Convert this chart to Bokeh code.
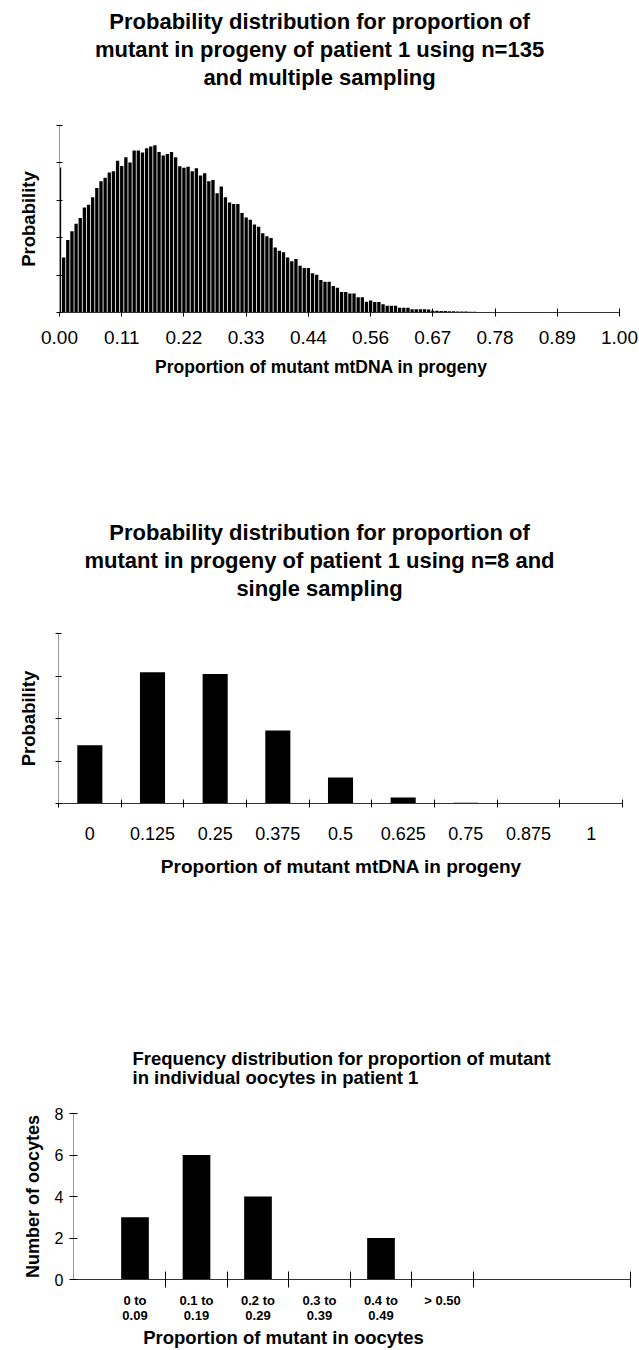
import glob
from bokeh.plotting import figure
from bokeh.models import Range1d, FixedTicker, Title, NumeralTickFormatter, CustomJSTickFormatter
from bokeh.layouts import column
from bokeh.embed import file_html
from bokeh.resources import INLINE

FONT = "Liberation Sans"

# ---------------- data ----------------
# Chart 1: n=135, multiple sampling (proportion k/135, probability)
c1_k = list(range(136))
c1_prob = [
    0.0194, 0.00735, 0.0097, 0.01085, 0.01185, 0.01265, 0.01405, 0.0144, 0.0154, 0.01665,
    0.01755, 0.0180, 0.0187, 0.0189, 0.0203, 0.0196, 0.02075, 0.02005, 0.02165, 0.02165,
    0.0214, 0.02195, 0.0222, 0.02235, 0.02145, 0.0210, 0.0212, 0.02145, 0.02075, 0.01955,
    0.01935, 0.0195, 0.0189, 0.0193, 0.0183, 0.0186, 0.01755, 0.0177, 0.01595, 0.01685,
    0.0154, 0.0147, 0.0145, 0.0145, 0.0133, 0.0127, 0.0124, 0.01175, 0.01145, 0.0106,
    0.0102, 0.00995, 0.0087, 0.00825, 0.00805, 0.00735, 0.00685, 0.00715, 0.00625, 0.00595,
    0.00595, 0.00525, 0.00505, 0.00435, 0.0041, 0.0041, 0.00355, 0.0033, 0.00275, 0.00275,
    0.00255, 0.00255, 0.00205, 0.00205, 0.00145, 0.0016, 0.0014, 0.0014, 0.0011, 0.0009,
    0.0009, 0.0009, 0.00063, 0.00063, 0.00063, 0.00045, 0.00045, 0.00045, 0.00045, 0.0004,
    0.00025, 0.00022, 0.0002, 0.0002, 0.00018, 0.00016, 0.00015, 0.00013, 0.00012, 0.0001,
    0.0001, 0.00008, 0.00007, 0.00006, 0.00005, 0.00004, 0.00003, 0.00003, 0.00002, 0.00002,
    0.00001, 0.0, 0.0, 0.0, 0.0, 0.0, 0.0, 0.0, 0.0, 0.0,
    0.0, 0.0, 0.0, 0.0, 0.0, 0.0, 0.0, 0.0, 0.0, 0.0,
    0.0, 0.0, 0.0, 0.0, 0.0, 0.0,
]
c1_ticks = [0, 1/9, 2/9, 3/9, 4/9, 5/9, 6/9, 7/9, 8/9, 1.0]
c1_yticks = [0, 0.005, 0.01, 0.015, 0.02, 0.025]
c1_title = ["Probability distribution for proportion of",
            "mutant in progeny of patient 1 using n=135",
            "and multiple sampling"]

# Chart 2: n=8, single sampling
c2_labels = ["0", "0.125", "0.25", "0.375", "0.5", "0.625", "0.75", "0.875", "1"]
c2_prob = [0.137, 0.309, 0.305, 0.172, 0.061, 0.014, 0.002, 0.0002, 0.0]
c2_yticks = [0, 0.1, 0.2, 0.3, 0.4]
c2_title = ["Probability distribution for proportion of",
            "mutant in progeny of patient 1 using n=8 and",
            "single sampling"]

# Chart 3: oocytes
c3_labels = ["0 to\n0.09", "0.1 to\n0.19", "0.2 to\n0.29", "0.3 to\n0.39", "0.4 to\n0.49", "> 0.50"]
c3_counts = [3, 6, 4, 0, 2, 0]
c3_yticks = [0, 2, 4, 6, 8]
c3_title = ["Frequency distribution for proportion of mutant",
            "in individual oocytes in patient 1"]

W = 639

_fonts = {}


def text_width(text, size, bold=True):
    if bold not in _fonts:
        name = "LiberationSans-Bold.ttf" if bold else "LiberationSans-Regular.ttf"
        f = None
        try:
            from PIL import ImageFont
            paths = glob.glob("/usr/share/fonts/**/" + name, recursive=True)
            if paths:
                f = ImageFont.truetype(paths[0], 100)
        except Exception:
            f = None
        _fonts[bold] = f
    f = _fonts[bold]
    if f is None:
        return len(text) * size * (0.56 if bold else 0.52)
    return f.getlength(text) * size / 100.0


def make_fig(height, L, R, T, B, xr, yr):
    p = figure(width=W, height=height, x_range=Range1d(*xr), y_range=Range1d(*yr),
               output_backend="svg", toolbar_location=None, title=None,
               min_border_left=L, min_border_right=W - R,
               min_border_top=T, min_border_bottom=height - B)
    try:
        p.frame_align = False
    except Exception:
        pass
    p.grid.visible = False
    p.outline_line_color = None
    p.background_fill_color = "white"
    p.border_fill_color = "white"
    return p


def title_line(text, size, left_px, frame_left, standoff, bold=True, valign="bottom"):
    return Title(text=text, align="left", offset=left_px - frame_left, standoff=standoff,
                 vertical_align=valign, text_font=FONT, text_font_size=f"{size}px",
                 text_font_style="bold" if bold else "normal", text_color="black")


def add_heading(p, lines, size, lefts, frame_left, line_standoff, spacer_standoff):
    p.add_layout(Title(text=" ", text_font_size="10px", standoff=spacer_standoff), "above")
    for text, left in reversed(list(zip(lines, lefts))):
        p.add_layout(title_line(text, size, left, frame_left, line_standoff), "above")


def style_axes(p):
    for ax in (p.xaxis[0], p.yaxis[0]):
        ax.major_label_text_font = FONT
        ax.major_label_text_color = "black"
        ax.major_tick_line_color = "black"
        ax.minor_tick_line_color = None
        ax.axis_label_text_font = FONT
        ax.axis_label_text_font_style = "bold"
        ax.axis_label_text_color = "black"
    p.xaxis[0].axis_line_color = "#333333"
    p.yaxis[0].axis_line_color = "#999999"


empty_fmt = CustomJSTickFormatter(code="return '';")

# ---------------- chart 1 ----------------
L1, R1, T1, B1 = 59, 619, 125, 312
p1 = make_fig(455, L1, R1, T1, B1, (0, 1), (0, 0.025))
c1_x = [k / 135 for k in c1_k]
p1.vbar(x=c1_x, top=c1_prob, width=0.8 / 135, fill_color="black", line_color=None)
style_axes(p1)
p1.xaxis.ticker = FixedTicker(ticks=c1_ticks)
p1.xaxis.formatter = NumeralTickFormatter(format="0.00")
p1.xaxis.major_label_text_font_size = "19px"
p1.xaxis.major_tick_in = 4
p1.xaxis.major_tick_out = 4
p1.xaxis.major_label_standoff = 14
p1.yaxis.ticker = FixedTicker(ticks=c1_yticks)
p1.yaxis.formatter = empty_fmt
p1.yaxis.major_tick_in = 3
p1.yaxis.major_tick_out = 3
p1.yaxis.major_label_standoff = 0
p1.yaxis.axis_label = "Probability"
p1.yaxis.axis_label_text_font_size = "18.5px"
p1.yaxis.axis_label_standoff = 18
lefts = [319 - text_width(t, 22) / 2 for t in c1_title]
add_heading(p1, c1_title, 22, lefts, L1, 1, 22)
xt = "Proportion of mutant mtDNA in progeny"
p1.add_layout(title_line(xt, 17.5, 320.5 - text_width(xt, 17.5) / 2, L1, 21, valign="top"), "below")

# ---------------- chart 2 ----------------
L2, R2, T2, B2 = 58, 622, 178, 348
p2 = make_fig(500, L2, R2, T2, B2, (-0.5, 8.5), (0, 0.4))
c2_x = list(range(len(c2_labels)))
p2.vbar(x=c2_x, top=c2_prob, width=0.4, fill_color="black", line_color=None)
style_axes(p2)
p2.xaxis.ticker = FixedTicker(ticks=c2_x, minor_ticks=[i - 0.5 for i in range(len(c2_labels) + 1)])
p2.xaxis.major_label_overrides = {i: lab for i, lab in enumerate(c2_labels)}
p2.xaxis.major_label_text_font_size = "18px"
p2.xaxis.major_tick_in = 0
p2.xaxis.major_tick_out = 0
p2.xaxis.minor_tick_line_color = "black"
p2.xaxis.minor_tick_in = 4
p2.xaxis.minor_tick_out = 4
p2.xaxis.major_label_standoff = 19
p2.yaxis.ticker = FixedTicker(ticks=c2_yticks)
p2.yaxis.formatter = empty_fmt
p2.yaxis.major_tick_in = 3
p2.yaxis.major_tick_out = 3
p2.yaxis.major_label_standoff = 0
p2.yaxis.axis_label = "Probability"
p2.yaxis.axis_label_text_font_size = "18.5px"
p2.yaxis.axis_label_standoff = 17
lefts = [319 - text_width(t, 22) / 2 for t in c2_title]
add_heading(p2, c2_title, 22, lefts, L2, 1, 19)
p2.add_layout(title_line(xt, 19, 340.5 - text_width(xt, 19) / 2, L2, 27, valign="top"), "below")

# ---------------- chart 3 ----------------
L3, R3, T3, B3 = 73, 630, 158, 334
p3 = make_fig(395, L3, R3, T3, B3, (-1.0, 8.057), (0, 8))
c3_x = list(range(len(c3_labels)))
p3.vbar(x=c3_x, top=c3_counts, width=0.45, fill_color="black", line_color=None)
style_axes(p3)
p3.xaxis.ticker = FixedTicker(ticks=c3_x, minor_ticks=[i + 0.5 for i in c3_x] + [8.05])
p3.xaxis.major_label_overrides = {i: lab for i, lab in enumerate(c3_labels)}
p3.xaxis.major_label_text_font_size = "13px"
p3.xaxis.major_label_text_font_style = "bold"
p3.xaxis.major_label_text_line_height = 1.0
p3.xaxis.major_tick_in = 0
p3.xaxis.major_tick_out = 0
p3.xaxis.minor_tick_line_color = "black"
p3.xaxis.minor_tick_in = 8
p3.xaxis.minor_tick_out = 8
p3.xaxis.major_label_standoff = 5
p3.yaxis.ticker = FixedTicker(ticks=c3_yticks)
p3.yaxis.major_label_text_font_size = "16px"
p3.yaxis.major_tick_in = 4
p3.yaxis.major_tick_out = 4
p3.yaxis.major_label_standoff = 6
p3.yaxis.axis_label = "Number of oocytes"
p3.yaxis.axis_label_text_font_size = "18px"
p3.yaxis.axis_label_standoff = 9
add_heading(p3, c3_title, 18.5, [132, 132], L3, -4, 15)
xt3 = "Proportion of mutant in oocytes"
p3.add_layout(title_line(xt3, 18.5, 283 - text_width(xt3, 18.5) / 2, L3, 2, valign="top"), "below")

layout = column(p1, p2, p3, spacing=0)
open("out.html", "w").write(file_html(layout, INLINE))
